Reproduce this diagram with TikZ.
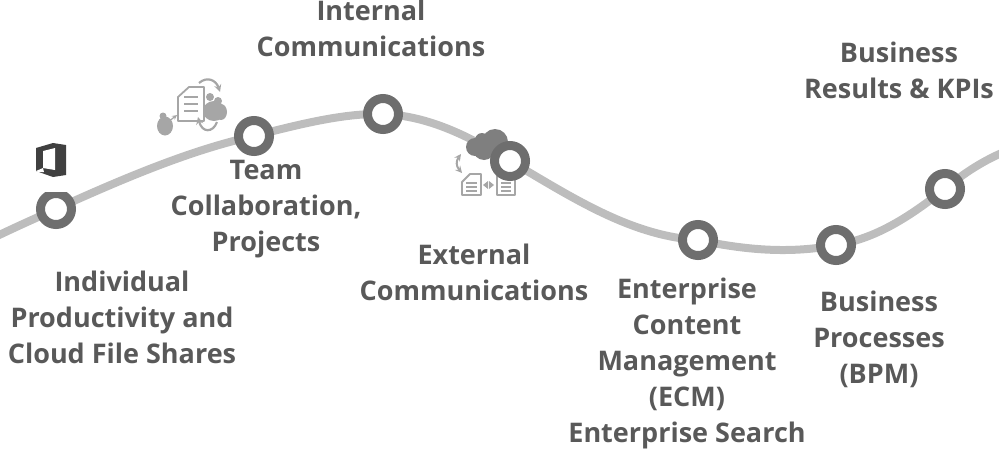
\documentclass[tikz,border=0pt]{standalone}
\usepackage{fontspec}
\setmainfont{Open Sans}
\definecolor{ringgray}{HTML}{6E6E6E}
\definecolor{wavegray}{HTML}{BDBDBD}
\definecolor{textgray}{HTML}{595959}
\definecolor{icongray}{HTML}{A6A6A6}
\definecolor{clouddark}{HTML}{7F7F7F}
\definecolor{officegray}{HTML}{404040}
\tikzset{
    ring/.style={circle, draw=ringgray, fill=white, line width=9pt, minimum size=31pt, inner sep=0pt},
    wave/.style={wavegray, line width=8pt},
    stage/.style={align=center, text=textgray, font=\fontsize{27}{36}\selectfont\bfseries, inner sep=0pt},
    paper/.style={draw=icongray, fill=white, line width=1.8pt, line join=round},
    paperline/.style={draw=icongray, line width=1.8pt}
}

\begin{document}
\begin{tikzpicture}[x=1pt, y=-1pt]
            \useasboundingbox (0,0) rectangle (999,450);

            \coordinate (wavestart) at (-5,237);
            \coordinate (waveend) at (1004,152);
            \coordinate (r1) at (56,209);
            \coordinate (r2) at (254,136);
            \coordinate (r3) at (383,114);
            \coordinate (r4) at (510,161);
            \coordinate (r5) at (698,240);
            \coordinate (r6) at (836,245);
            \coordinate (r7) at (945,189);

            % curve behind the rings
            \draw[wave] (wavestart) .. controls (18,226) and (36,218) .. (r1)
                .. controls (120,180) and (190,150) .. (r2)
                .. controls (300,124) and (345,113) .. (r3)
                .. controls (430,116) and (470,137) .. (r4)
                .. controls (570,196) and (630,236) .. (r5)
                .. controls (745,250) and (790,254) .. (r6)
                .. controls (880,238) and (915,212) .. (r7)
                .. controls (965,172) and (985,160) .. (waveend);

            % office icon
            \fill[officegray] (36,148) -- (53,143) -- (66,145) -- (66,175) -- (53,177) -- (36,171) -- cycle;
            \fill[white] (43,151) -- (55,148) -- (55,170) -- (43,168) -- cycle;
            \fill[white] (36,171) -- (43,168) -- (44,172) -- (38,172) -- cycle;

            % collaboration icon
            \fill[icongray] (163,116) circle (3.5pt);
            \fill[icongray] (165,126) ellipse (8pt and 9.5pt);
            \draw[icongray, line width=1.2pt, -stealth] (168,122) -- (177,115);
            \draw[paper] (178,97) -- (189,87) -- (204,87) -- (204,121) -- (178,121) -- cycle;
            \draw[paperline] (184,97) -- (198,97);
            \draw[paperline] (184,104) -- (198,104);
            \draw[paperline] (184,111) -- (198,111);
            \draw[icongray, line width=2.2pt, -stealth] (199,83) .. controls (207,76) and (216,80) .. (220,92);
            \draw[icongray, line width=2.2pt, -stealth] (217,122) .. controls (213,133) and (202,133) .. (198,117);
            \fill[icongray] (210,97) circle (4pt);
            \fill[icongray] (218,101) circle (4pt);
            \fill[icongray] (214,111) ellipse (11pt and 10pt);
            \fill[icongray] (221,112) ellipse (6pt and 8pt);

            % external sharing icon
            \fill[clouddark] (475,147) circle (9pt);
            \fill[clouddark] (482,140) circle (7pt);
            \fill[clouddark] (484,149) circle (11pt);
            \fill[clouddark] (495,142) circle (13pt);
            \fill[clouddark] (500,149) circle (10pt);
            \draw[icongray, line width=2pt, stealth-stealth] (461,154) .. controls (456,161) and (456,166) .. (462,173);
            \draw[paper] (462,182) -- (470,174) -- (481,174) -- (481,195) -- (462,195) -- cycle;
            \draw[paperline] (466,183) -- (477,183);
            \draw[paperline] (466,187) -- (477,187);
            \draw[paperline] (466,191) -- (477,191);
            \draw[paper] (497,176) rectangle (515,195);
            \draw[paperline] (501,183) -- (511,183);
            \draw[paperline] (501,187) -- (511,187);
            \draw[paperline] (501,191) -- (511,191);
            \fill[icongray] (483,185) -- (488,181) -- (488,189) -- cycle;
            \fill[icongray] (494,185) -- (489,181) -- (489,189) -- cycle;

            \node[ring] (ringa) at (r1) {};
            \node[ring] (ringb) at (r2) {};
            \node[ring] (ringc) at (r3) {};
            \node[ring] (ringd) at (r4) {};
            \node[ring] (ringe) at (r5) {};
            \node[ring] (ringf) at (r6) {};
            \node[ring] (ringg) at (r7) {};
            \fill[white] (30,180) rectangle (80,192);

            \node[stage] (individual) at (122,317) {Individual\\Productivity and\\Cloud File Shares};
            \node[stage] (team) at (266,209) {Team\\Collaboration,\\Projects};
            \node[stage] (internal) at (371,28) {Internal\\Communications};
            \node[stage] (external) at (474,272) {External\\Communications};
            \node[stage] (enterprise) at (687,363) {Enterprise\\Content\\Management\\(ECM)\\Enterprise Search};
            \node[stage] (business) at (879,339) {Business\\Processes\\(BPM)};
            \node[stage] (results) at (899,70) {Business\\Results \& KPIs};
\end{tikzpicture}
\end{document}
